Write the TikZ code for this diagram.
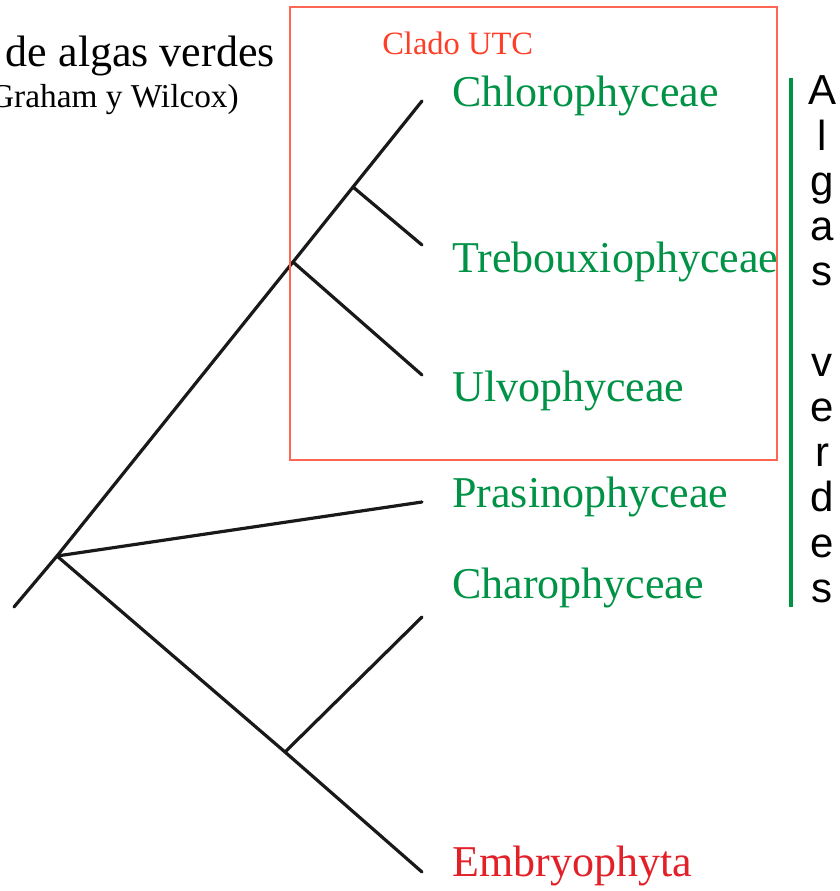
\documentclass[tikz,border=0pt]{standalone}
\usepackage{fontspec}
\setmainfont{Liberation Serif}
\newfontfamily\lettersf{Liberation Sans}
\definecolor{algagreen}{RGB}{0,146,69}
\definecolor{cladored}{RGB}{255,62,40}
\definecolor{embryored}{RGB}{226,32,40}

\begin{document}
\begin{tikzpicture}[x=0.75pt,y=-0.75pt,
    branch/.style={line width=2.4pt, line cap=round, black!90},
    taxon/.style={anchor=base west, inner sep=0pt, text=algagreen,
      font=\fontsize{33}{40}\selectfont},
    letter/.style={anchor=base, inner sep=0pt,
      font=\lettersf\fontsize{31.5}{36}\selectfont}]
  \useasboundingbox (0,0) rectangle (839,891);
  \clip (0,0) rectangle (839,891);

  % tree
  \coordinate (tip) at (14,607);
  \coordinate (root) at (57,556);
  \coordinate (utc) at (293,262);
  \coordinate (ct) at (353,187);
  \coordinate (emb) at (285,752);
  \coordinate (chl) at (422,101);
  \coordinate (tre) at (422,245);
  \coordinate (ulv) at (422,375);
  \coordinate (pra) at (422,502);
  \coordinate (cha) at (422,617);
  \coordinate (ebr) at (422,872);

  \draw[branch] (tip) -- (root) -- (utc) -- (ct) -- (chl);
  \draw[branch] (ct) -- (tre);
  \draw[branch] (utc) -- (ulv);
  \draw[branch] (root) -- (pra);
  \draw[branch] (root) -- (emb) -- (ebr);
  \draw[branch] (emb) -- (cha);

  % taxa
  \node[taxon] (nchl) at (452,107) {Chlorophyceae};
  \node[taxon] (ntre) at (452,272) {Trebouxiophyceae};
  \node[taxon] (nulv) at (452,401) {Ulvophyceae};
  \node[taxon] (npra) at (452,507) {Prasinophyceae};
  \node[taxon] (ncha) at (452,598) {Charophyceae};
  \node[taxon, text=embryored] (nebr) at (452,876) {Embryophyta};

  % title (cut at the left edge)
  \node[anchor=base east, inner sep=0pt, font=\fontsize{33}{40}\selectfont]
    (title) at (275,67) {de algas verdes};
  \node[anchor=base east, inner sep=0pt, font=\fontsize{25}{30}\selectfont]
    (source) at (239,108) {(Graham y Wilcox)};

  % clado UTC
  \draw[cladored!80, line width=1.5pt] (290,7) rectangle (777,460);
  \node[anchor=base west, inner sep=0pt, text=cladored,
    font=\fontsize{24.4}{30}\selectfont] (utclabel) at (382,55) {Clado UTC};

  % algas verdes
  \coordinate (barTop) at (791,78);
  \coordinate (barBot) at (791,607);
  \draw[algagreen, line width=3pt] (barTop) -- (barBot);
  \foreach \ch/\k in {A/0,l/1,g/2,a/3,s/4,v/6,e/7,r/8,d/9,e/10,s/11} {
    \node[letter] (letter\k) at (822,105+45.2*\k) {\ch};
  }
\end{tikzpicture}
\end{document}
